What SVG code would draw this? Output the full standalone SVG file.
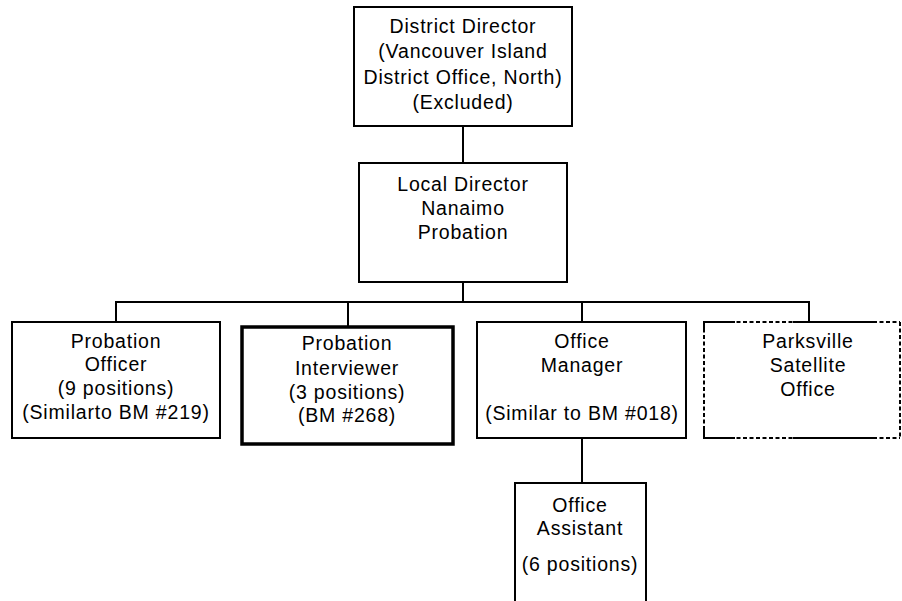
<svg xmlns="http://www.w3.org/2000/svg" width="902" height="601" viewBox="0 0 902 601">
<style>
.box{fill:#fff;stroke:#000;stroke-width:2}
.thick{fill:#fff;stroke:#000;stroke-width:3.5}
.dash{fill:none;stroke:#000;stroke-width:2;stroke-dasharray:4,2.5}
.solid{fill:none;stroke:#000;stroke-width:2}
.conn{fill:none;stroke:#000;stroke-width:2}
text{font-family:"Liberation Sans",Arial,sans-serif;font-size:19.5px;letter-spacing:0.8px;fill:#000;text-anchor:middle}
</style>
<rect width="902" height="601" fill="#fff"/>
<g id="connectors">
<line class="conn" x1="463" y1="126" x2="463" y2="163"/>
<line class="conn" x1="463" y1="282" x2="463" y2="302"/>
<line class="conn" x1="115" y1="302" x2="809" y2="302"/>
<line class="conn" x1="116" y1="301" x2="116" y2="322"/>
<line class="conn" x1="348" y1="301" x2="348" y2="327"/>
<line class="conn" x1="582" y1="301" x2="582" y2="322"/>
<line class="conn" x1="809" y1="301" x2="809" y2="322"/>
<line class="conn" x1="582" y1="438" x2="582" y2="483"/>
</g>
<g id="district-director">
<rect class="box" x="354" y="7" width="218" height="119"/>
<text x="463" y="33">District Director</text>
<text x="463" y="58">(Vancouver Island</text>
<text x="463" y="84">District Office, North)</text>
<text x="463" y="109">(Excluded)</text>
</g>
<g id="local-director">
<rect class="box" x="359" y="163" width="208" height="119"/>
<text x="463" y="191">Local Director</text>
<text x="463" y="215">Nanaimo</text>
<text x="463" y="239">Probation</text>
</g>
<g id="probation-officer">
<rect class="box" x="12" y="322" width="208" height="116"/>
<text x="116" y="348">Probation</text>
<text x="116" y="371">Officer</text>
<text x="116" y="395">(9 positions)</text>
<text x="116" y="419">(Similarto BM #219)</text>
</g>
<g id="probation-interviewer">
<rect class="thick" x="242" y="327" width="211" height="117"/>
<text x="347" y="350">Probation</text>
<text x="347" y="375">Interviewer</text>
<text x="347" y="399">(3 positions)</text>
<text x="347" y="422">(BM #268)</text>
</g>
<g id="office-manager">
<rect class="box" x="477" y="322" width="209" height="116"/>
<text x="582" y="348">Office</text>
<text x="582" y="372">Manager</text>
<text x="582" y="420">(Similar to BM #018)</text>
</g>
<g id="parksville">
<path class="dash" d="M704,322 L900,322 M704,438 L900,438 M704,322 L704,438 M900,322 L900,438"/>
<path class="solid" d="M703,322 L735,322 M703,438 L735,438 M793,322 L876,322 M793,438 L876,438 M704,321 L704,330 M704,430 L704,439"/>
<text x="808" y="348">Parksville</text>
<text x="808" y="372">Satellite</text>
<text x="808" y="396">Office</text>
</g>
<g id="office-assistant">
<rect class="box" x="515" y="483" width="131" height="130"/>
<text x="580" y="512">Office</text>
<text x="580" y="535">Assistant</text>
<text x="580" y="571">(6 positions)</text>
</g>
</svg>
